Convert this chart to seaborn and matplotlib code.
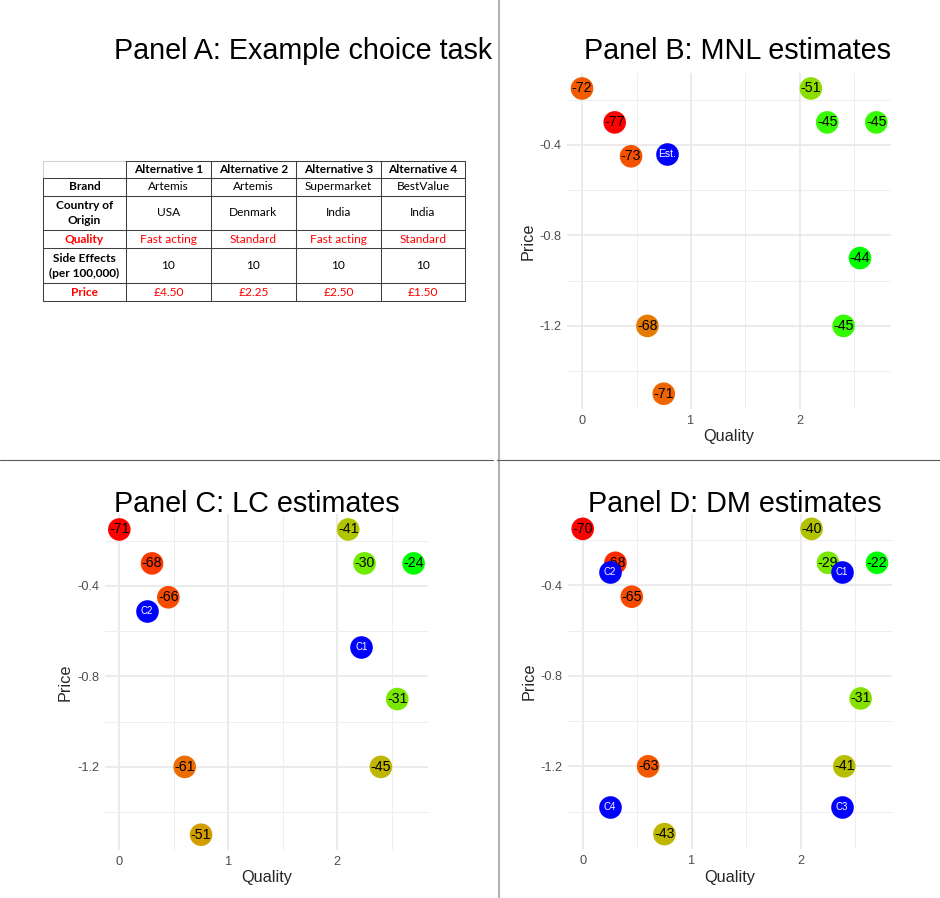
import numpy as np
import pandas as pd
import matplotlib
matplotlib.use('Agg')
import matplotlib.pyplot as plt
from matplotlib.colors import ListedColormap
from matplotlib.ticker import FixedLocator
import seaborn as sns

# product positions (the same ten products in every panel)
quality = [0, 0.3, 0.45, 0.6, 0.75, 2.1, 2.25, 2.7, 2.55, 2.4]
price = [-0.15, -0.3, -0.45, -1.2, -1.5, -0.15, -0.3, -0.3, -0.9, -1.2]

# labels shown on the points of each panel
mnl_values = [-72, -77, -73, -68, -71, -51, -45, -45, -44, -45]
lc_values = [-71, -68, -66, -61, -51, -41, -30, -24, -31, -45]
dm_values = [-70, -68, -65, -63, -43, -40, -29, -22, -31, -41]

# estimated preference points / classes
mnl_est_labels = ['Est.']
mnl_est_quality = [0.78]
mnl_est_price = [-0.44]

lc_class_labels = ['C1', 'C2']
lc_class_quality = [2.22, 0.25]
lc_class_price = [-0.67, -0.51]

dm_class_labels = ['C1', 'C2', 'C3', 'C4']
dm_class_quality = [2.38, 0.25, 2.38, 0.25]
dm_class_price = [-0.34, -0.34, -1.38, -1.38]

# panel A table
table_header = ['', 'Alternative 1', 'Alternative 2', 'Alternative 3', 'Alternative 4']
table_rows = ['Brand', 'Country of\nOrigin', 'Quality', 'Side Effects\n(per 100,000)', 'Price']
brand = ['Artemis', 'Artemis', 'Supermarket', 'BestValue']
origin = ['USA', 'Denmark', 'India', 'India']
quality_level = ['Fast acting', 'Standard', 'Fast acting', 'Standard']
side_effects = ['10', '10', '10', '10']
price_level = ['£4.50', '£2.25', '£2.50', '£1.50']
red_rows = ['Quality', 'Price']

sns.set_theme(style='white')
plt.rcParams['font.family'] = ['Liberation Sans', 'DejaVu Sans']
plt.rcParams['axes.unicode_minus'] = False

# red -> green gradient interpolated in Lab space (like ggplot's scale_colour_gradient)
M = np.array([[0.4124, 0.3576, 0.1805],
              [0.2126, 0.7152, 0.0722],
              [0.0193, 0.1192, 0.9505]])
WHITE = np.array([0.95047, 1.0, 1.08883])


def srgb_to_lab(rgb):
    c = np.asarray(rgb, float)
    lin = np.where(c <= 0.04045, c / 12.92, ((c + 0.055) / 1.055) ** 2.4)
    xyz = M @ lin / WHITE
    f = np.where(xyz > 0.008856, np.cbrt(xyz), 7.787 * xyz + 16 / 116)
    return np.array([116 * f[1] - 16, 500 * (f[0] - f[1]), 200 * (f[1] - f[2])])


def lab_to_srgb(lab):
    L, a, b = lab
    fy = (L + 16) / 116
    f = np.array([fy + a / 500, fy, fy - b / 200])
    xyz = np.where(f ** 3 > 0.008856, f ** 3, (f - 16 / 116) / 7.787) * WHITE
    lin = np.clip(np.linalg.inv(M) @ xyz, 0, 1)
    c = np.where(lin <= 0.0031308, 12.92 * lin, 1.055 * lin ** (1 / 2.4) - 0.055)
    return np.clip(c, 0, 1)


lab_lo = srgb_to_lab([1, 0, 0])
lab_hi = srgb_to_lab([0, 1, 0])
red_green = ListedColormap([lab_to_srgb(lab_lo + t * (lab_hi - lab_lo)) for t in np.linspace(0, 1, 256)])

fig = plt.figure(figsize=(9.4, 8.98), dpi=100)


def draw_panel(rect, values, ex_q, ex_p, ex_labels, ex_size):
    ax = fig.add_axes(rect)
    df = pd.DataFrame({'Quality': quality, 'Price': price, 'value': values})
    sns.scatterplot(data=df, x='Quality', y='Price', hue='value', palette=red_green,
                    hue_norm=(min(values), max(values)), s=265, linewidth=0,
                    legend=False, ax=ax, zorder=3)
    for q, p, v in zip(quality, price, values):
        ax.text(q, p, str(v), ha='center', va='center', fontsize=10.2, color='black', zorder=4)
    ex = pd.DataFrame({'Quality': ex_q, 'Price': ex_p})
    sns.scatterplot(data=ex, x='Quality', y='Price', color='#0000FF', s=265, linewidth=0,
                    legend=False, ax=ax, zorder=5)
    for q, p, lab in zip(ex_q, ex_p, ex_labels):
        ax.text(q, p, lab, ha='center', va='center', fontsize=ex_size, color='white', zorder=6)

    ax.set_xlim(-0.135, 2.835)
    ax.set_ylim(-1.5675, -0.0825)
    ax.set_xticks([0, 1, 2])
    ax.set_xticklabels(['0', '1', '2'])
    ax.set_yticks([-1.2, -0.8, -0.4])
    ax.set_yticklabels(['-1.2', '-0.8', '-0.4'])
    ax.xaxis.set_minor_locator(FixedLocator([0.5, 1.5, 2.5]))
    ax.yaxis.set_minor_locator(FixedLocator([-1.4, -1.0, -0.6, -0.2]))
    ax.grid(which='major', color='#E8E8E8', linewidth=1.2)
    ax.grid(which='minor', color='#EEEEEE', linewidth=0.7)
    ax.set_axisbelow(True)
    for s in ax.spines.values():
        s.set_visible(False)
    ax.tick_params(which='both', length=0, labelsize=9.2, labelcolor='#4D4D4D')
    ax.tick_params(axis='x', pad=4)
    ax.tick_params(axis='y', pad=4)
    ax.set_xlabel('Quality', fontsize=11.7, labelpad=2)
    ax.set_ylabel('Price', fontsize=11.7, labelpad=3)
    ax.set_facecolor('none')
    return ax


W, H = 940, 898


def rect(x0, y0, x1, y1):
    return [x0 / W, 1 - y1 / H, (x1 - x0) / W, (y1 - y0) / H]


draw_panel(rect(567.3, 73.2, 891, 409), mnl_values, mnl_est_quality, mnl_est_price, mnl_est_labels, 7.5)
draw_panel(rect(104.6, 514.2, 428.3, 850), lc_values, lc_class_quality, lc_class_price, lc_class_labels, 7)
draw_panel(rect(568.0, 513.6, 891.7, 849.4), dm_values, dm_class_quality, dm_class_price, dm_class_labels, 7)

# overlay in pixel coordinates: titles, separators, table
ov = fig.add_axes([0, 0, 1, 1], zorder=10)
ov.set_xlim(0, W)
ov.set_ylim(H, 0)
ov.axis('off')
ov.patch.set_visible(False)

title_kw = dict(ha='center', va='baseline', fontsize=20.7, color='black')
ov.text(303, 59, 'Panel A: Example choice task', **title_kw)
ov.text(738, 59, 'Panel B: MNL estimates', **title_kw)
ov.text(257, 512, 'Panel C: LC estimates', **title_kw)
ov.text(735, 512, 'Panel D: DM estimates', **title_kw)

ov.plot([499, 499], [0, H], color='#B3B3B3', lw=1.5, solid_capstyle='butt')
ov.plot([0, 493], [460, 460], color='#595959', lw=0.8)
ov.plot([497, W], [460, 460], color='#595959', lw=0.8)

# table grid
col_x = [43, 126, 211, 296, 381, 465]
row_y = [161, 178.3, 195.7, 230.3, 248.3, 283.3, 300.7]
line_c = '#3F3F3F'
light_c = '#CFCFCF'
for i, y in enumerate(row_y):
    if i == 0:
        ov.plot([col_x[0], col_x[1]], [y, y], color=light_c, lw=0.75)
        ov.plot([col_x[1], col_x[-1]], [y, y], color=line_c, lw=0.75)
    else:
        ov.plot([col_x[0], col_x[-1]], [y, y], color=line_c, lw=0.75)
for j, x in enumerate(col_x):
    if j == 0:
        ov.plot([x, x], [row_y[0], row_y[1]], color=light_c, lw=0.75)
        ov.plot([x, x], [row_y[1], row_y[-1]], color=line_c, lw=0.75)
    else:
        ov.plot([x, x], [row_y[0], row_y[-1]], color=line_c, lw=0.75)

tfont = ['Lato', 'DejaVu Sans']
tsize = 8.6
cx = [(col_x[k] + col_x[k + 1]) / 2 for k in range(5)]
cy = [(row_y[k] + row_y[k + 1]) / 2 for k in range(6)]
for k, h in enumerate(table_header):
    ov.text(cx[k], cy[0], h, ha='center', va='center', fontsize=tsize, fontweight='bold',
            family=tfont, color='black')
row_values = [brand, origin, quality_level, side_effects, price_level]
for r, (name, vals) in enumerate(zip(table_rows, row_values)):
    colr = '#FF0000' if name in red_rows else 'black'
    ov.text(cx[0], cy[r + 1], name, ha='center', va='center', fontsize=tsize, fontweight='bold',
            family=tfont, color=colr, linespacing=1.45, multialignment='center')
    for k, v in enumerate(vals):
        ov.text(cx[k + 1], cy[r + 1], v, ha='center', va='center', fontsize=tsize,
                family=tfont, color=colr)

fig.savefig('out.png', dpi=100)
